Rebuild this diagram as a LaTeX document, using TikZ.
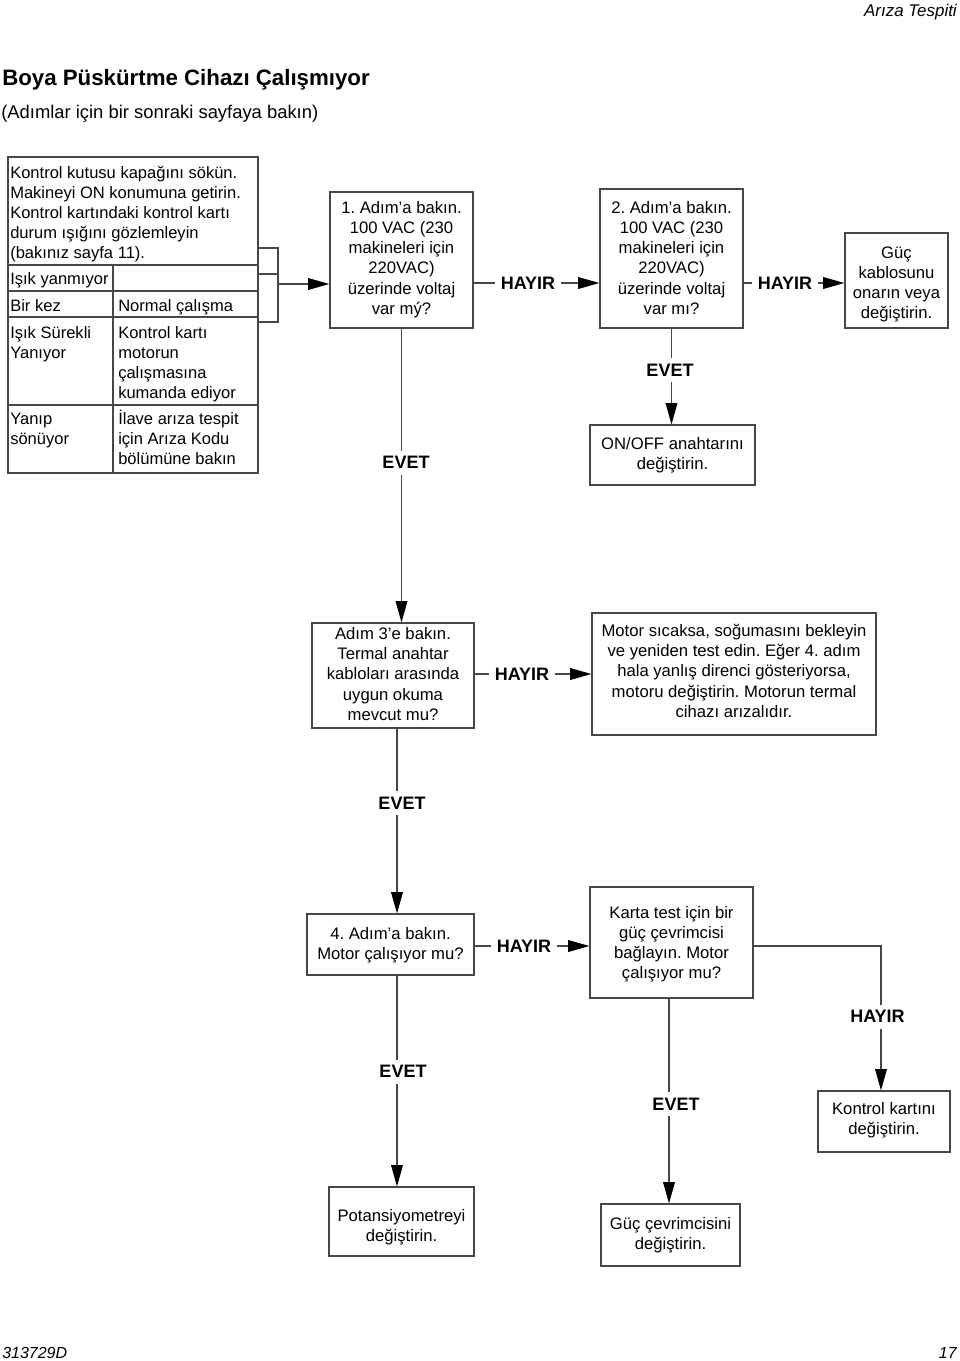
\documentclass[tikz,border=0pt]{standalone}
\usepackage{fontspec}
\setmainfont{Liberation Sans}
\usetikzlibrary{arrows.meta,fit}
\frenchspacing
\newcommand\fstrut{\rule{0pt}{11.5pt}}
\newcommand\bodyfont{\fontsize{12.5}{15.2}\selectfont}
\newcommand\tabfont{\fontsize{12.4}{15}\selectfont}
\newcommand\labfont{\fontsize{13.5}{16}\selectfont\bfseries}
\begin{document}
\begin{tikzpicture}[x=0.75pt,y=-0.75pt,
  line/.style={draw=black!72, line width=0.9pt},
  box/.style={line, inner sep=0pt},
  btext/.style={inner sep=0pt, align=center, font=\bodyfont, anchor=north},
  conn/.style={line},
  arr/.style={line, -{Triangle[length=16pt,width=8.8pt,black]}},
  lab/.style={inner sep=4pt, font=\labfont},
  ttext/.style={inner sep=0pt, align=left, font=\tabfont},
]
\useasboundingbox (0,0) rectangle (960,1361);

% header, title, footer
\node[anchor=base east, inner sep=0pt, font=\fontsize{12.7}{15}\selectfont\itshape] (hdr) at (957,16) {Arıza Tespiti};
\node[anchor=base west, inner sep=0pt, font=\fontsize{16.7}{20}\selectfont\bfseries] (title) at (2,85) {Boya Püskürtme Cihazı Çalışmıyor};
\node[anchor=base west, inner sep=0pt, font=\fontsize{13.8}{16}\selectfont] (subtitle) at (1,118) {(Adımlar için bir sonraki sayfaya bakın)};
\node[anchor=base west, inner sep=0pt, font=\fontsize{12}{14}\selectfont\itshape] (docno) at (2,1358) {313729D};
\node[anchor=base east, inner sep=0pt, font=\fontsize{12}{14}\selectfont\itshape] (pageno) at (957,1358) {17};

% left table
\node[line, inner sep=0pt, fit={(8,157) (258,473)}] (tbl) {};
\draw[line] (8,265) -- (258,265);
\draw[line] (8,291) -- (258,291);
\draw[line] (8,317) -- (258,317);
\draw[line] (8,405) -- (258,405);
\draw[line] (113,265) -- (113,473);
\node[ttext, anchor=north west] (t0) at (10,162.4) {\fstrut Kontrol kutusu kapağını sökün.\\Makineyi ON konumuna getirin.\\Kontrol kartındaki kontrol kartı\\durum ışığını gözlemleyin\\(bakınız sayfa 11).};
\node[ttext, anchor=base west] (t1a) at (10,284.3) {Işık yanmıyor};
\node[ttext, anchor=base west] (t2a) at (10,311) {Bir kez};
\node[ttext, anchor=base west] (t2b) at (118,311) {Normal çalışma};
\node[ttext, anchor=north west] (t3a) at (10,322.4) {\fstrut Işık Sürekli\\Yanıyor};
\node[ttext, anchor=north west] (t3b) at (118,322.4) {\fstrut Kontrol kartı\\motorun\\çalışmasına\\kumanda ediyor};
\node[ttext, anchor=north west] (t4a) at (10,409) {\fstrut Yanıp\\sönüyor};
\node[ttext, anchor=north west] (t4b) at (118,409) {\fstrut İlave arıza tespit\\için Arıza Kodu\\bölümüne bakın};

% bracket
\draw[line] (258,248) -| (278,322) -- (258,322);
\draw[line] (258,274) -- (278,274);
\coordinate (br) at (278,284);

% boxes
\node[box, fit={(330,192) (473,328)}] (b1) {};
\node[box, fit={(600,189) (743,328)}] (b2) {};
\node[box, fit={(845,233) (948,328)}] (b3) {};
\node[box, fit={(590,425) (755,485)}] (b4) {};
\node[box, fit={(312,623) (474,728)}] (b5) {};
\node[box, fit={(592,613) (876,735)}] (b6) {};
\node[box, fit={(307,914) (474,975)}] (b7) {};
\node[box, fit={(590,887) (753,998)}] (b8) {};
\node[box, fit={(818,1091) (950,1152)}] (b9) {};
\node[box, fit={(329,1187) (474,1256)}] (b10) {};
\node[box, fit={(601,1204) (740,1266)}] (b11) {};

% box texts
\node[btext] (b1t) at (b1.center |- 0,197.4) {\fstrut 1. Adım’a bakın.\\100 VAC (230\\makineleri için\\220VAC)\\üzerinde voltaj\\var mý?};
\node[btext] (b2t) at (b2.center |- 0,197.4) {\fstrut 2. Adım’a bakın.\\100 VAC (230\\makineleri için\\220VAC)\\üzerinde voltaj\\var mı?};
\node[btext] (b3t) at (b3.center |- 0,242.4) {\fstrut Güç\\kablosunu\\onarın veya\\değiştirin.};
\node[btext] (b4t) at (b4.center |- 0,434) {\fstrut ON/OFF anahtarını\\değiştirin.};
\node[btext] (b5t) at (b5.center |- 0,623.7) {\fstrut Adım 3’e bakın.\\Termal anahtar\\kabloları arasında\\uygun okuma\\mevcut mu?};
\node[btext] (b6t) at (b6.center |- 0,620.7) {\fstrut Motor sıcaksa, soğumasını bekleyin\\ve yeniden test edin. Eğer 4. adım\\hala yanlış direnci gösteriyorsa,\\motoru değiştirin. Motorun termal\\cihazı arızalıdır.};
\node[btext] (b7t) at (b7.center |- 0,924) {\fstrut 4. Adım’a bakın.\\Motor çalışıyor mu?};
\node[btext] (b8t) at (b8.center |- 0,902.4) {\fstrut Karta test için bir\\güç çevrimcisi\\bağlayın. Motor\\çalışıyor mu?};
\node[btext] (b9t) at (b9.center |- 0,1099) {\fstrut Kontrol kartını\\değiştirin.};
\node[btext] (b10t) at (b10.center |- 0,1205.7) {\fstrut Potansiyometreyi\\değiştirin.};
\node[btext] (b11t) at (b11.center |- 0,1214) {\fstrut Güç çevrimcisini\\değiştirin.};

% labels
\node[lab] (h1) at (528,283) {HAYIR};
\node[lab] (h2) at (785,283) {HAYIR};
\node[lab] (h3) at (522,674) {HAYIR};
\node[lab] (h4) at (524,946) {HAYIR};
\node[lab] (h5) at (877.5,1016.7) {HAYIR};
\node[lab] (e1) at (406,462.7) {EVET};
\node[lab] (e2) at (670,370) {EVET};
\node[lab] (e3) at (402,803) {EVET};
\node[lab] (e4) at (403,1071.7) {EVET};
\node[lab] (e5) at (676,1104) {EVET};

\coordinate (x3) at (397,0);
\coordinate (x5) at (669,0);
\coordinate (c8) at (881,946);

% connectors
\draw[arr] (br) -- (br -| b1.west);
\draw[conn] (b1.east |- h1) -- (h1);
\draw[arr] (h1) -- (h1 -| b2.west);
\draw[conn] (b2.east |- h2) -- (h2);
\draw[arr] (h2) -- (h2 -| b3.west);
\draw[conn] (b2.south) -- (b2.south |- e2.north);
\draw[arr] (b2.south |- e2.south) -- (b2.south |- b4.north);
\draw[conn] (b1.south) -- (b1.south |- e1.north);
\draw[arr] (b1.south |- e1.south) -- (b1.south |- b5.north);
\draw[conn] (b5.east |- h3) -- (h3);
\draw[arr] (h3) -- (h3 -| b6.west);
\draw[conn] (b5.south -| x3) -- (x3 |- e3.north);
\draw[arr] (x3 |- e3.south) -- (x3 |- b7.north);
\draw[conn] (b7.east |- h4) -- (h4);
\draw[arr] (h4) -- (h4 -| b8.west);
\draw[conn] (b8.east |- c8) -- (c8) -- (c8 |- h5.north);
\draw[arr] (c8 |- h5.south) -- (c8 |- b9.north);
\draw[conn] (b8.south -| x5) -- (x5 |- e5.north);
\draw[arr] (x5 |- e5.south) -- (x5 |- b11.north);
\draw[conn] (b7.south -| x3) -- (x3 |- e4.north);
\draw[arr] (x3 |- e4.south) -- (x3 |- b10.north);
\end{tikzpicture}
\end{document}
